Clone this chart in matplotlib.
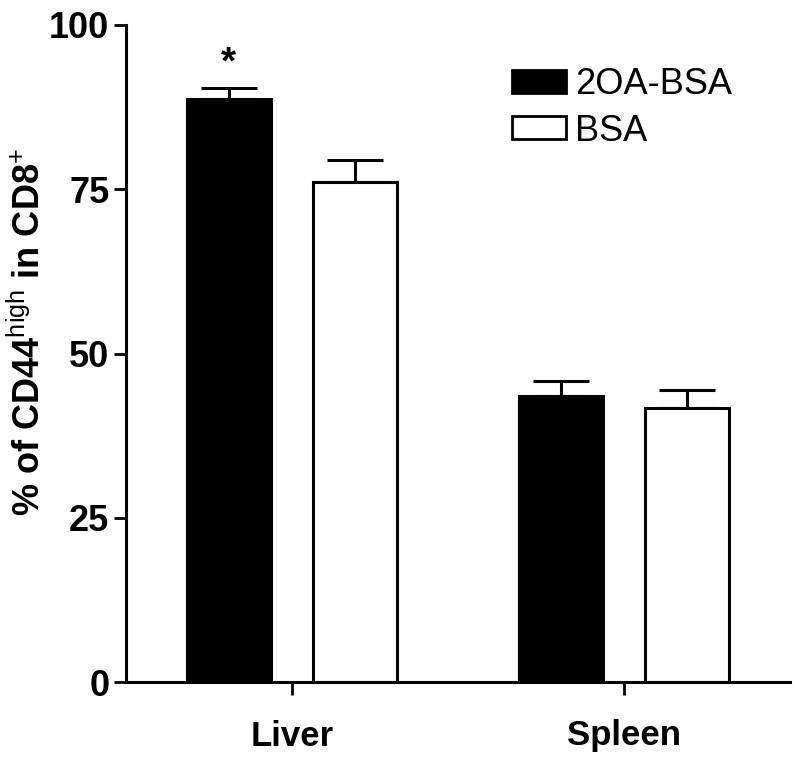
import matplotlib
matplotlib.use("Agg")
import matplotlib.pyplot as plt
from matplotlib.patches import Patch
import numpy as np

plt.rcParams['font.family'] = ['Liberation Sans', 'DejaVu Sans']
plt.rcParams['mathtext.fontset'] = 'custom'
plt.rcParams['mathtext.rm'] = 'Liberation Sans'
plt.rcParams['mathtext.bf'] = 'Liberation Sans:bold'

categories = ['Liver', 'Spleen']
series_names = ['2OA-BSA', 'BSA']
values_2oa = [88.7, 43.5]
err_2oa = [1.7, 2.3]
values_bsa = [76.1, 41.7]
err_bsa = [3.4, 2.7]
yticks = [0, 25, 50, 75, 100]

fig = plt.figure(figsize=(8, 7.57), dpi=100)
ax = fig.add_axes([126/800, 1-682/757, (790-126)/800, (682-25)/757])

x = np.arange(len(categories))
w = 0.255
off = 0.19
ax.bar(x - off, values_2oa, w, color='black', edgecolor='black', linewidth=2.2, zorder=2)
ax.bar(x + off, values_bsa, w, color='white', edgecolor='black', linewidth=2.2, zorder=2)
for xs, v, e in [(x - off, values_2oa, err_2oa), (x + off, values_bsa, err_bsa)]:
    ax.errorbar(xs, v, yerr=[np.zeros(len(e)), e], fmt='none', ecolor='black',
                elinewidth=2.2, capsize=20, capthick=2.2, zorder=1)

ax.text(x[0] - off, 94.2, '*', ha='center', va='center', fontsize=28, fontweight='bold')

ax.set_xlim(-0.5, 1.5)
ax.set_ylim(0, 100)
ax.set_yticks(yticks)
ax.set_yticklabels([str(t) for t in yticks], fontsize=26, fontweight='bold')
ax.set_xticks(x)
ax.set_xticklabels(categories, fontsize=25, fontweight='bold')
ax.tick_params(axis='both', width=2, length=9, color='black')
ax.tick_params(axis='x', pad=18)
ax.tick_params(axis='y', pad=3)
for s in ['top', 'right']:
    ax.spines[s].set_visible(False)
for s in ['left', 'bottom']:
    ax.spines[s].set_linewidth(2.2)

fig.text(29/800, 1-332/757, r'% of CD44$^{\mathrm{high}}$ in CD8$^{\mathrm{+}}$',
         rotation=90, ha='center', va='center', fontsize=26, fontweight='bold')

handles = [Patch(facecolor='black', edgecolor='black', linewidth=2),
           Patch(facecolor='white', edgecolor='black', linewidth=2)]
fig.legend(handles, series_names, loc='upper left', bbox_to_anchor=(512/800, 1-67/757),
           frameon=False, fontsize=26, handlelength=1.5, handleheight=0.6,
           handletextpad=0.25, labelspacing=0.32, borderpad=0, borderaxespad=0)

fig.savefig('out.png', dpi=100)
